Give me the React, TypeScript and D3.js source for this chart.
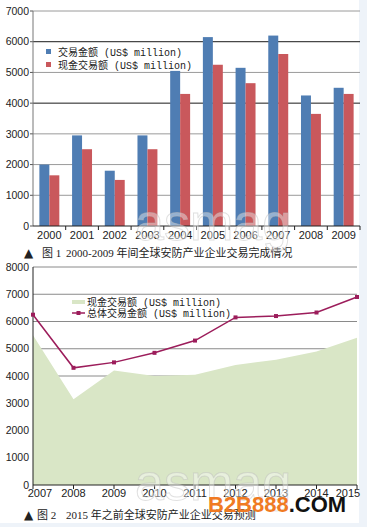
import React from "react";
import * as d3 from "d3";

const W = 367;
const H = 527;

// Chart 1 data
const years1 = ["2000", "2001", "2002", "2003", "2004", "2005", "2006", "2007", "2008", "2009"];
const dealValue = [2000, 2950, 1800, 2950, 5050, 6150, 5150, 6200, 4250, 4500];
const cashValue = [1650, 2500, 1500, 2500, 4300, 5250, 4650, 5600, 3650, 4300];
const yTicks1 = [0, 1000, 2000, 3000, 4000, 5000, 6000, 7000];
const seriesKeys1 = ["deal", "cash"];
const legend1 = ["交易金额", "现金交易额"];

// Chart 2 data
const years2 = ["2007", "2008", "2009", "2010", "2011", "2012", "2013", "2014", "2015"];
const cashForecast = [5500, 3150, 4200, 4000, 4050, 4400, 4600, 4900, 5400];
const totalForecast = [6250, 4300, 4500, 4850, 5300, 6150, 6200, 6330, 6900];
const yTicks2 = [0, 1000, 2000, 3000, 4000, 5000, 6000, 7000, 8000];
const legend2 = ["现金交易额", "总体交易金额"];

const captions = ["2000-2009 年间全球安防产业企业交易完成情况", "2015 年之前全球安防产业企业交易预测"];

const BLUE = "#4f7db3";
const RED = "#c9585c";
const GREEN = "#d9e6c6";
const PLUM = "#9c1d5b";
const SANS = "'Liberation Sans', Arial, 'Noto Sans CJK SC', sans-serif";
const SERIF = "'Liberation Serif', 'Noto Sans CJK SC', serif";
const MONO = "'Liberation Mono', 'Noto Sans CJK SC', monospace";

export default function App() {
  // ---------- chart 1 ----------
  const x1 = d3.scaleBand<string>().domain(years1).range([33, 360]).paddingInner(0.39).paddingOuter(0.195);
  const xs = d3.scaleBand<string>().domain(seriesKeys1).range([0, x1.bandwidth()]);
  const y1 = d3.scaleLinear().domain([0, 7000]).range([226, 11]);
  const step1 = x1.step();

  // ---------- chart 2 ----------
  const x2 = d3.scalePoint<string>().domain(years2).range([33, 357]);
  const y2 = d3.scaleLinear().domain([0, 8000]).range([485, 267]);
  const areaGen = d3
    .area<number>()
    .x((_, i) => x2(years2[i]) as number)
    .y0(y2(0))
    .y1((d) => y2(d));
  const lineGen = d3
    .line<number>()
    .x((_, i) => x2(years2[i]) as number)
    .y((d) => y2(d));

  const labelOffset2 = (i: number) => (i === 0 ? 7 : i === years2.length - 1 ? -9 : 0);

  return (
    <svg width={W} height={H} style={{ position: "absolute", left: 0, top: 0 }}>
      <rect x={0} y={0} width={W} height={H} fill="#eef3f9" />
      <rect x={0} y={0} width={359} height={523} fill="#ffffff" />

      {/* ===== Chart 1 ===== */}
      {yTicks1.map((t) => (
        <g key={"g1" + t}>
          {t > 0 && (
            <line
              x1={33}
              x2={360}
              y1={y1(t)}
              y2={y1(t)}
              stroke={t === 4000 || t === 6000 ? "#1a1a1a" : "#9a9a9a"}
              strokeWidth={1}
            />
          )}
          <line x1={30} x2={33} y1={y1(t)} y2={y1(t)} stroke="#555" />
          <text x={29} y={y1(t)} dy="0.35em" textAnchor="end" fontFamily={SANS} fontSize={10.5} fill="#222">
            {t}
          </text>
        </g>
      ))}
      <line x1={33} x2={33} y1={y1(7000)} y2={y1(0)} stroke="#777" />
      {years1.map((yr, i) => (
        <g key={"b" + yr} transform={`translate(${x1(yr)},0)`}>
          <rect x={xs("deal")} y={y1(dealValue[i])} width={xs.bandwidth()} height={y1(0) - y1(dealValue[i])} fill={BLUE} />
          <rect x={xs("cash")} y={y1(cashValue[i])} width={xs.bandwidth()} height={y1(0) - y1(cashValue[i])} fill={RED} />
        </g>
      ))}
      <line x1={33} x2={360} y1={y1(0)} y2={y1(0)} stroke="#222" />
      {years1.map((yr, i) => {
        const bx = (x1(yr) as number) - (x1.step() - x1.bandwidth()) / 2;
        return (
          <g key={"xt1" + yr}>
            {i > 0 && <line x1={bx} x2={bx} y1={y1(0)} y2={y1(0) + 4} stroke="#222" />}
            <text
              x={(x1(yr) as number) + x1.bandwidth() / 2}
              y={239}
              textAnchor="middle"
              fontFamily={SANS}
              fontSize={11}
              fill="#222"
            >
              {yr}
            </text>
          </g>
        );
      })}
      <line x1={33 + step1 * 10} x2={33 + step1 * 10} y1={y1(0)} y2={y1(0) + 4} stroke="#222" />

      {/* legend 1 */}
      {legend1.map((lab, i) => (
        <g key={"l1" + i} transform={`translate(46,${52 + i * 13})`}>
          <rect x={0} y={-3} width={5} height={5} fill={i === 0 ? BLUE : RED} />
          <text x={12} y={0} dy="0.35em" fontFamily={MONO} fontSize={10} fill="#222">
            <tspan fontFamily="'Noto Sans CJK SC', sans-serif">{lab}</tspan>
            <tspan> (US$ million)</tspan>
          </text>
        </g>
      ))}

      {/* caption 1 */}
      <text x={24} y={257} fontFamily={SERIF} fontSize={11} fill="#222">
        <tspan fontFamily="'DejaVu Sans', sans-serif" fontSize={12}>▲</tspan>
        <tspan x={42}>图 1</tspan>
        <tspan x={66}>{captions[0]}</tspan>
      </text>

      {/* ===== Chart 2 ===== */}
      {yTicks2.map((t) => (
        <g key={"g2" + t}>
          {t > 0 && <line x1={33} x2={357} y1={y2(t)} y2={y2(t)} stroke="#8a8a8a" />}
          <text x={29} y={y2(t)} dy="0.35em" textAnchor="end" fontFamily={SANS} fontSize={10.5} fill="#222">
            {t}
          </text>
        </g>
      ))}
      <path d={areaGen(cashForecast) || ""} fill={GREEN} />
      <line x1={33} x2={33} y1={y2(8000)} y2={y2(0)} stroke="#222" />
      <line x1={33} x2={357} y1={y2(0)} y2={y2(0)} stroke="#222" />
      {years2.map((yr, i) => (
        <g key={"xt2" + yr}>
          <line x1={x2(yr)} x2={x2(yr)} y1={y2(0)} y2={y2(0) + 4} stroke="#222" />
          <text x={(x2(yr) as number) + labelOffset2(i)} y={497} textAnchor="middle" fontFamily={SANS} fontSize={11} fill="#222">
            {yr}
          </text>
        </g>
      ))}
      <path d={lineGen(totalForecast) || ""} fill="none" stroke={PLUM} strokeWidth={1.5} />
      {totalForecast.map((v, i) => (
        <rect key={"m" + i} x={(x2(years2[i]) as number) - 2} y={y2(v) - 2} width={4} height={4} fill={PLUM} />
      ))}

      {/* legend 2 */}
      <g transform="translate(72,302)">
        <rect x={0} y={-2} width={13} height={4} fill={GREEN} />
        <text x={15} y={0} dy="0.35em" fontFamily={MONO} fontSize={10} fill="#222">
          <tspan fontFamily="'Noto Sans CJK SC', sans-serif">{legend2[0]}</tspan>
          <tspan> (US$ million)</tspan>
        </text>
      </g>
      <g transform="translate(72,313)">
        <line x1={0} x2={13} y1={0} y2={0} stroke={PLUM} strokeWidth={1.5} />
        <rect x={4.5} y={-2} width={4} height={4} fill={PLUM} />
        <text x={15} y={0} dy="0.35em" fontFamily={MONO} fontSize={10} fill="#222">
          <tspan fontFamily="'Noto Sans CJK SC', sans-serif">{legend2[1]}</tspan>
          <tspan> (US$ million)</tspan>
        </text>
      </g>

      {/* caption 2 */}
      <text x={24} y={519} fontFamily={SERIF} fontSize={11} fill="#222">
        <tspan fontFamily="'DejaVu Sans', sans-serif" fontSize={12}>▲</tspan>
        <tspan x={37}>图 2</tspan>
        <tspan x={66}>{captions[1]}</tspan>
      </text>

      {/* watermarks */}
      <text x={135} y={240} fontFamily={SANS} fontSize={52} fill="#ffffff" fillOpacity={0.4} stroke="#bbbbbb" strokeOpacity={0.45} strokeWidth={1}>
        asmag
      </text>
      <text x={135} y={500} fontFamily={SANS} fontSize={52} fill="#ffffff" fillOpacity={0.4} stroke="#bbbbbb" strokeOpacity={0.45} strokeWidth={1}>
        asmag
      </text>
      <text x={208} y={512} fontFamily={SANS} fontSize={22} fontWeight="bold">
        <tspan fill="#f07a22">B2B888</tspan>
        <tspan fill="#111">.COM</tspan>
      </text>
    </svg>
  );
}
